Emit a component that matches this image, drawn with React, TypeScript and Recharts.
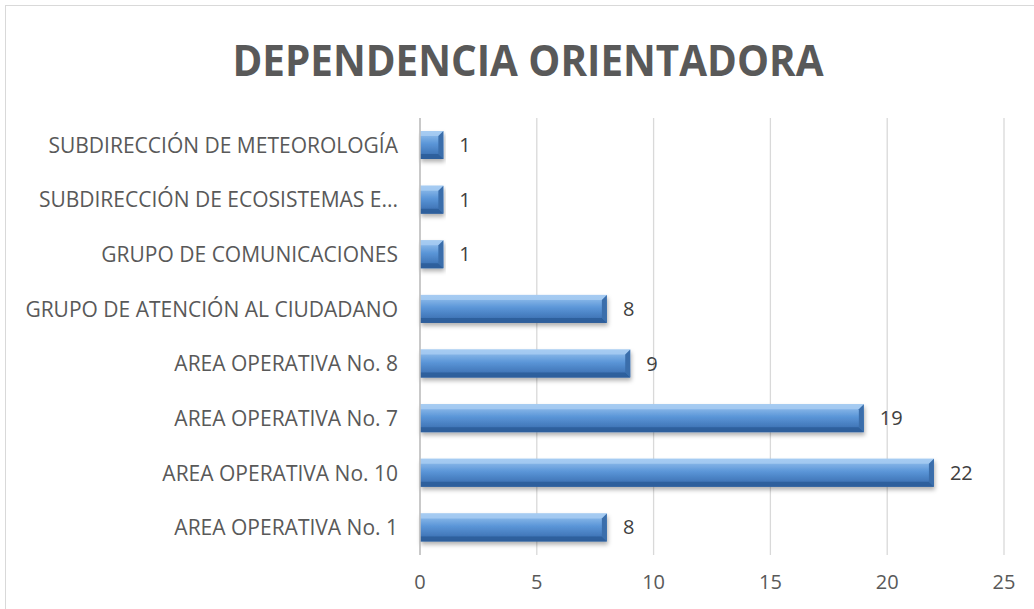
import React from "react";
import { BarChart, Bar, XAxis, YAxis, CartesianGrid, LabelList } from "recharts";

const categories = [
  "SUBDIRECCIÓN DE METEOROLOGÍA",
  "SUBDIRECCIÓN DE ECOSISTEMAS E...",
  "GRUPO DE COMUNICACIONES",
  "GRUPO DE ATENCIÓN AL CIUDADANO",
  "AREA OPERATIVA No. 8",
  "AREA OPERATIVA No. 7",
  "AREA OPERATIVA No. 10",
  "AREA OPERATIVA No. 1",
];
const values = [1, 1, 1, 8, 9, 19, 22, 8];
const xTicks = [0, 5, 10, 15, 20, 25];

const data = categories.map((name, i) => ({ name, value: values[i] }));

const FONT = "'Open Sans', sans-serif";

// bevelled blue bar like the Excel 3D style
function BevelBar(props: any) {
  const { x, y, width, height } = props;
  if (!width || width <= 0) return null;
  const b = Math.min(5, width / 3);
  return (
    <g filter="url(#barShadow)">
      <rect x={x} y={y} width={width} height={height} fill="url(#barFill)" />
      <polygon
        points={`${x},${y} ${x + width},${y} ${x + width - b},${y + b} ${x},${y + b}`}
        fill="#a9cdf2"
        opacity={0.8}
      />
      <polygon
        points={`${x},${y + height} ${x + width},${y + height} ${x + width - b},${y + height - b} ${x},${y + height - b}`}
        fill="#2c5d99"
        opacity={0.85}
      />
      <polygon
        points={`${x + width},${y} ${x + width},${y + height} ${x + width - b},${y + height - b} ${x + width - b},${y + b}`}
        fill="#3a6eab"
      />
    </g>
  );
}

export default function App() {
  return (
    <div
      style={{
        position: "fixed",
        left: 5,
        top: 5,
        width: 1029,
        height: 604,
        borderLeft: "1px solid #d9d9d9",
        borderTop: "1px solid #d9d9d9",
        background: "#fff",
        overflow: "hidden",
      }}
    >
      <svg width={1029} height={100} style={{ position: "absolute", left: 0, top: 0 }}>
        <text
          x={522}
          y={70}
          textAnchor="middle"
          textLength={591}
          lengthAdjust="spacingAndGlyphs"
          fontFamily={FONT}
          fontWeight={700}
          fontSize={43}
          fill="#595959"
        >
          DEPENDENCIA ORIENTADORA
        </text>
      </svg>
      <div style={{ position: "absolute", left: -1, top: -1 }}>
        <BarChart
          width={1029}
          height={604}
          data={data}
          layout="vertical"
          margin={{ top: 113, right: 30, bottom: 10, left: 0 }}
          barSize={28}
        >
          <defs>
            <linearGradient id="barFill" x1="0" y1="0" x2="0" y2="1">
              <stop offset="0%" stopColor="#9cc6f0" />
              <stop offset="45%" stopColor="#5b96d8" />
              <stop offset="100%" stopColor="#3467a9" />
            </linearGradient>
            <filter id="barShadow" x="-5%" y="-20%" width="115%" height="160%">
              <feDropShadow dx="1" dy="3" stdDeviation="2" floodColor="#000" floodOpacity="0.3" />
            </filter>
          </defs>
          <CartesianGrid horizontal={false} stroke="#d9d9d9" strokeWidth={1.3} />
          <XAxis
            type="number"
            domain={[0, 25]}
            ticks={xTicks}
            axisLine={false}
            tickLine={false}
            tickSize={0}
            tickMargin={20}
            height={44}
            tick={{ fill: "#595959", fontSize: 20, fontFamily: FONT }}
          />
          <YAxis
            type="category"
            dataKey="name"
            width={415}
            axisLine={{ stroke: "#bfbfbf", strokeWidth: 1.5 }}
            tickLine={false}
            tickSize={0}
            tickMargin={22}
            interval={0}
            tick={{ fill: "#595959", fontSize: 21, fontFamily: FONT }}
          />
          <Bar dataKey="value" shape={<BevelBar />} isAnimationActive={false}>
            <LabelList
              dataKey="value"
              position="right"
              offset={16}
              fill="#404040"
              fontSize={20}
              fontFamily={FONT}
            />
          </Bar>
        </BarChart>
      </div>
    </div>
  );
}
